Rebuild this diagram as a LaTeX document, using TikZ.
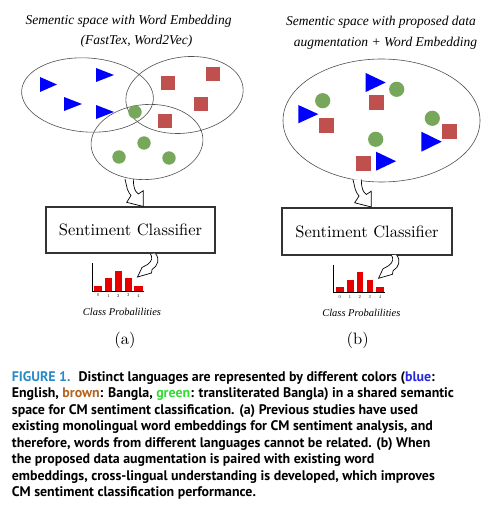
\documentclass[tikz,border=0pt]{standalone}
\usepackage{fontspec}
\newfontfamily\capfont{PT Sans}
\newfontfamily\tifont{Liberation Serif}
\newfontfamily\lmten{lmroman10-regular}[Extension=.otf]
\usetikzlibrary{shapes.geometric}
\definecolor{triblue}{RGB}{0,0,255}
\definecolor{sqbrown}{RGB}{192,80,77}
\definecolor{circgreen}{RGB}{119,167,91}
\definecolor{figblue}{RGB}{40,140,200}
\definecolor{txtblue}{RGB}{40,40,220}
\definecolor{txtbrown}{RGB}{180,100,30}
\definecolor{txtgreen}{RGB}{50,220,50}
\definecolor{barred}{RGB}{230,0,0}
\definecolor{ellgray}{RGB}{80,80,80}
\newcommand\Ptri[4]{\fill[triblue] (#1,#2) -- (#3,{(#2+#4)/2}) -- (#1,#4) -- cycle;}
\newcommand\Psq[4]{\fill[sqbrown] (#1,#2) rectangle (#3,#4);}
\newcommand\Pcirc[3]{\fill[circgreen] (#1,#2) circle[radius=#3pt];}
\newcommand\Pchart[2]{%
\begin{scope}[shift={(#1,#2)}]
\fill[barred] (94,285.7) rectangle (102.3,291.3);
\fill[barred] (105,278) rectangle (112.3,291.3);
\fill[barred] (115,270.7) rectangle (121.7,291.3);
\fill[barred] (125,278) rectangle (131.7,291.3);
\fill[barred] (134.3,285.7) rectangle (142.7,291.3);
\draw[line width=0.7pt] (92.3,263) -- (92.3,291.3);
\draw[line width=1.2pt] (92.3,291.3) -- (143.5,291.3);
\foreach \i/\xx in {0/98.2,1/108.6,2/118.3,3/128.3,4/138.5}
  \node[tick] at (\xx,295.5) {\i};
\end{scope}}
\newcommand\PbigArrow[2]{%
\draw[blockarrow, shift={(#1,#2)}] (125,179) -- (127.3,189) .. controls (128.3,192) and (129.5,193.5) .. (131,195.5) -- (126.7,202.3) -- (143.3,206.5) -- (143.3,190.7) -- (138.3,194) .. controls (135.3,191.5) and (133.5,189) .. (133.3,179);}
\newcommand\PsmallArrow[2]{%
\draw[blockarrow, shift={(#1,#2)}] (150.5,254) .. controls (152.5,257) and (152.5,261) .. (147.5,264.5) -- (142,267.5) -- (137.5,277) -- (151.5,273) -- (152,269.5) .. controls (158,266) and (160,259) .. (155.5,253.5);}
\tikzset{
  ell/.style={ellipse, draw=ellgray, line width=0.6pt, inner sep=0pt},
  clsbox/.style={draw=black!80, line width=1.1pt, inner sep=0pt, font=\lmten\fontsize{16.5}{18}\selectfont},
  ttl/.style={font=\tifont\itshape\fontsize{13.5}{15}\selectfont, inner sep=0pt},
  lbl/.style={font=\tifont\itshape\fontsize{10.5}{12}\selectfont, inner sep=0pt},
  sub/.style={font=\lmten\fontsize{16.5}{18}\selectfont, inner sep=0pt},
  tick/.style={font=\lmten\fontsize{4.5}{5}\selectfont, inner sep=0pt},
  blockarrow/.style={draw=black, fill=white, line width=0.7pt, line join=miter},
  capline/.style={font=\capfont\bfseries\fontsize{13.9}{15}\selectfont, inner sep=0pt, anchor=base west},
}
\begin{document}
\begin{tikzpicture}[x=1pt,y=-1pt]
\useasboundingbox (0,0) rectangle (503,510);
\fill[white] (0,0) rectangle (503,510);
% titles
\node[ttl] (ta1) at (128.5,21) {Sementic space with Word Embedding};
\node[ttl] (ta2) at (136.5,41) {(FastTex, Word2Vec)};
\node[ttl] (tb1) at (381,22) {Sementic space with proposed data};
\node[ttl] (tb2) at (385.5,43) {augmentation + Word Embedding};
% panel a ellipses
\node[ell, minimum width=132pt, minimum height=74pt, rotate=-4] (e1) at (87.5,95) {};
\node[ell, minimum width=118pt, minimum height=76pt, rotate=8] (e2) at (184.5,95) {};
\node[ell, minimum width=112pt, minimum height=75pt, rotate=4] (e3) at (147,142) {};
\Ptri{40}{77}{57}{92}
\Ptri{96}{68}{114}{82}
\Ptri{64}{97}{82}{111}
\Ptri{96}{105}{114}{119}
\Psq{161}{76}{175}{90}
\Psq{206}{67}{220}{81}
\Psq{194}{97}{208}{111}
\Psq{158}{114}{172}{128}
\Pcirc{135}{112}{6.7}
\Pcirc{144}{143}{6.7}
\Pcirc{119}{157}{6.7}
\Pcirc{169}{158}{6.7}
% panel b ellipse
\node[ell, minimum width=197pt, minimum height=123pt] (eb) at (381.5,120.5) {};
\Ptri{365.7}{73}{385.7}{92}
\Pcirc{396.7}{89.3}{7.6}
\Psq{369}{95}{384}{110}
\Pcirc{322.7}{100.7}{7.6}
\Ptri{298.3}{105}{318.3}{123.3}
\Psq{319.3}{118.3}{334}{132.7}
\Pcirc{432.3}{118.3}{7.6}
\Psq{442}{124}{456.7}{138.7}
\Ptri{421.3}{131.7}{441.7}{151.7}
\Pcirc{375.7}{139.3}{7.6}
\Psq{356}{156}{370.7}{170.7}
\Ptri{376}{151.7}{396}{170.7}
% classifier boxes
\node[clsbox, minimum width=169pt, minimum height=46pt] (ca) at (130.5,230) {Sentiment Classifier};
\node[clsbox, minimum width=170pt, minimum height=47pt] (cb) at (367,231.5) {Sentiment Classifier};
% arrows
\PbigArrow{0}{0}
\PbigArrow{228}{0.5}
\PsmallArrow{0}{0}
\PsmallArrow{241}{1.3}
% charts
\Pchart{0}{0}
\Pchart{241.5}{1.5}
\node[lbl] (pa) at (122,311.7) {Class Probalilities};
\node[lbl] (pb) at (361.3,312.7) {Class Probalilities};
\node[sub] (la) at (125,340) {(a)};
\node[sub] (lb) at (357.7,340) {(b)};
% caption
\node[capline] (c1) at (11.7,381.5) {{\color{figblue}FIGURE 1.}\hspace{8pt}Distinct languages are represented by different colors ({\color{txtblue}blue}:};
\node[capline] (c2) at (11.7,397.9) {English, {\color{txtbrown}brown}: Bangla, {\color{txtgreen}green}: transliterated Bangla) in a shared semantic};
\node[capline] (c3) at (11.7,414.4) {space for CM sentiment classification. (a) Previous studies have used};
\node[capline] (c4) at (11.7,430.8) {existing monolingual word embeddings for CM sentiment analysis, and};
\node[capline] (c5) at (11.7,447.3) {therefore, words from different languages cannot be related. (b) When};
\node[capline] (c6) at (11.7,463.7) {the proposed data augmentation is paired with existing word};
\node[capline] (c7) at (11.7,480.2) {embeddings, cross-lingual understanding is developed, which improves};
\node[capline] (c8) at (11.7,496.6) {CM sentiment classification performance.};
\end{tikzpicture}
\end{document}
